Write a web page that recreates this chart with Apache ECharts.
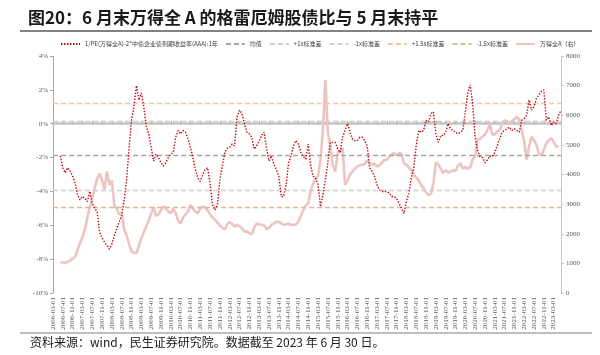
<!DOCTYPE html>
<html><head><meta charset="utf-8">
<script src="https://cdn.jsdelivr.net/npm/echarts@6/dist/echarts.min.js"></script>
<style>html,body{margin:0;padding:0;background:#fff}#c{width:600px;height:355px}</style>
</head><body><div id="c"></div>
<script>
// ---- categories: monthly dates 2006-03 .. 2023-06 ----
var startYear = 2006, startMonth = 3, monthCount = 208;
var dates = [];
for (var i = 0; i < monthCount; i++) {
  var mm = startMonth - 1 + i, y = startYear + Math.floor(mm / 12), mo = mm % 12 + 1;
  dates.push(y + '-' + (mo < 10 ? '0' + mo : mo) + '-01');
}
// ---- 1/PE(万得全A) - 2*中债企业债到期收益率(AAA):1年, % ----
var spread = [
  null, null, null, -1.9, -2.6, -2.9, -2.6, -2.8, -3.1, -3.5,
  -4.2, -4.5, -4.3, -4.4, -4.6, -4.0, -4.7, -5.0, -5.2, -6.4,
  -6.75, -7.0, -7.2, -7.4, -7.1, -6.6, -6.2, -5.8, -5.4, -4.5,
  -3.3, -1.4, 0.2, 1.0, 2.25, 1.4, 1.8, 1.0, -0.1, -0.6,
  -1.4, -2.2, -1.8, -2.0, -2.3, -2.5, -2.3, -2.0, -1.8, -1.7,
  -0.8, -0.4, -0.6, -0.4, -0.5, -0.9, -1.4, -2.0, -2.7, -3.2,
  -3.4, -3.0, -2.7, -2.6, -3.5, -4.8, -5.1, -4.8, -3.3, -2.5,
  -1.7, -1.45, -1.4, -1.2, -1.3, 0.4, 0.8, 0.6, 0.0, -0.5,
  -0.6, -0.8, -1.5, -1.3, -1.0, -0.7, -0.5, -1.4, -2.2, -1.9,
  -2.4, -2.7, -3.1, -4.3, -4.3, -3.6, -2.3, -1.9, -1.3, -1.0,
  -1.2, -1.7, -1.95, -2.1, -1.2, -2.5, -3.1, -3.2, -3.6, -4.9,
  -4.2, -3.3, -2.3, -1.1, -1.1, -1.1, -1.5, -1.7, -0.8, -0.4,
  0.0, -0.5, -0.9, -1.0, -1.0, -0.8, -0.8, -1.0, -1.3, -2.6,
  -2.8, -3.1, -3.6, -3.9, -4.0, -4.0, -4.0, -4.1, -4.3, -4.3,
  -4.4, -4.7, -5.0, -5.3, -4.6, -4.1, -3.2, -2.6, -1.3, -0.4,
  -0.5, -0.4, 0.2, 0.1, 0.6, 0.7, -0.6, -1.1, -0.7, -0.7,
  -0.5, 0.0, -0.3, -0.4, -0.5, -0.6, -0.5, -0.4, 0.7, 1.8,
  2.3, 1.2, -0.8, -1.57, -1.95, -2.0, -2.3, -2.15, -1.9, -1.95,
  -1.7, -1.3, -0.9, -0.5, -0.4, -0.3, -0.2, -0.4, -0.3, -0.4,
  -0.5, 0.2, 0.3, 0.5, 1.4, 0.8, 1.0, 1.5, 1.7, 1.9,
  2.0, 0.2, 0.4, -0.1, 0.1, 0.0, 0.5, 0.8
];
// ---- 万得全A (right axis) ----
var windA = [
  null, null, null, 1050, 1030, 1020, 1060, 1100, 1150, 1230,
  1450, 1680, 1880, 2150, 2550, 2880, 3200, 3550, 3850, 4040,
  3800, 3500, 4100, 3650, 3800, 2950, 2850, 2650, 2700, 2150,
  1950, 1650, 1400, 1350, 1350, 1600, 1850, 2050, 2250, 2450,
  2680, 2900, 2600, 2650, 2800, 2920, 2850, 2750, 2700, 2850,
  2700, 2450, 2350, 2550, 2650, 2750, 2970, 2850, 2750, 2700,
  2850, 2920, 2880, 2800, 2650, 2550, 2470, 2380, 2270, 2200,
  2150, 2330, 2400, 2330, 2240, 2300, 2250, 2185, 2070, 2080,
  2020, 1980, 2200, 2350, 2320, 2300, 2290, 2160, 2200, 2300,
  2350, 2400, 2400, 2350, 2300, 2320, 2340, 2300, 2300, 2320,
  2410, 2600, 2800, 2950, 3030, 3450, 3700, 3850, 3950, 4500,
  5500, 7200, 5400, 5000, 4300, 4100, 4700, 4800, 4900, 3650,
  3800, 4000, 4100, 4200, 4270, 4320, 4330, 4350, 4480, 4380,
  4330, 4370, 4270, 4300, 4400, 4490, 4500, 4600, 4680, 4720,
  4650, 4720, 4700, 4380, 4330, 4250, 4150, 4000, 3900, 3800,
  3650, 3550, 3400, 3300, 3350, 3700, 4400, 4350, 4200, 4050,
  4150, 4060, 4100, 4150, 4120, 4300, 4380, 4200, 4260, 4200,
  4250, 4500, 4620, 5200, 5200, 5280, 5350, 5500, 5700, 5350,
  5350, 5450, 5500, 5700, 5820, 5800, 5700, 5800, 5870, 5950,
  5850, 5500, 5100, 4500, 4950, 5280, 5150, 5000, 4700, 4650,
  4830, 5050, 5150, 5220, 5100, 4950, 4950
];
// ---- reference levels (%) ----
var refNames  = ['均值', '+1x标准差', '-1x标准差', '+1.5x标准差', '-1.5x标准差'];
var refLevels = [-1.88, 0.16, -3.92, 1.18, -4.94];
var leftTicks  = [-10, -8, -6, -4, -2, 0, 2, 4];
var rightTicks = [0, 1000, 2000, 3000, 4000, 5000, 6000, 7000, 8000];

var refColors = ['#a6a6a6', '#d0d0d0', '#d0d0d0', '#f2c6a8', '#e3b89c'];
var serifFont = 'Liberation Serif';
var cjk = 'Noto Sans CJK SC';

var series = [{
  name: '1/PE(万得全A)-2*中债企业债到期收益率(AAA):1年',
  type: 'line', data: spread, xAxisIndex: 0, yAxisIndex: 0,
  showSymbol: false, symbol: 'none', z: 5,
  lineStyle: { color: '#c8000a', width: 1.4, type: [1.4, 1.6] },
  itemStyle: { color: '#c8000a' }
}];
refNames.forEach(function (n, k) {
  series.push({
    name: n, type: 'line', data: [], xAxisIndex: 0, yAxisIndex: 0, symbol: 'none', z: 3,
    lineStyle: { color: refColors[k], width: 1.3, type: [5, 3] },
    itemStyle: { color: refColors[k] },
    markLine: {
      silent: true, symbol: ['none', 'none'], label: { show: false },
      lineStyle: { color: refColors[k], width: 1.3, type: [5, 3] },
      data: [{ yAxis: refLevels[k] }]
    }
  });
});
series.push({
  name: '万得全A（右）', type: 'line', data: windA, xAxisIndex: 0, yAxisIndex: 1,
  showSymbol: false, symbol: 'none', z: 2,
  lineStyle: { color: '#ecc4c2', width: 2.6 },
  itemStyle: { color: '#ecc4c2' }
});

var chart = echarts.init(document.getElementById('c'));
chart.setOption({
  animation: false,
  backgroundColor: '#fff',
  graphic: [
    { type: 'text', left: 28, top: 9, style: { text: '图20：6 月末万得全 A 的格雷厄姆股债比与 5 月末持平', font: 'bold 17px "Noto Sans CJK SC"', fill: '#1a1a1a' } },
    { type: 'line', shape: { x1: 20, y1: 31, x2: 592, y2: 31 }, style: { stroke: '#595959', lineWidth: 1.5 } },
    { type: 'line', shape: { x1: 20, y1: 333, x2: 592, y2: 333 }, style: { stroke: '#7f7f7f', lineWidth: 1 } },
    { type: 'text', left: 30, top: 336, style: { text: '资料来源：wind，民生证券研究院。数据截至 2023 年 6 月 30 日。', font: '12px "Noto Sans CJK SC"', fill: '#1a1a1a' } }
  ],
  legend: {
    top: 41, left: 60, width: 540, padding: 0, itemWidth: 19, itemHeight: 6, itemGap: 7,
    itemStyle: { opacity: 0 },
    textStyle: { fontSize: 6, fontFamily: cjk, color: '#404040' },
    data: series.map(function (s) { return s.name; })
  },
  grid: { left: 53, right: 39, top: 56, bottom: 62 },
  xAxis: [{
    type: 'category', data: dates, boundaryGap: false,
    axisLine: { show: false, onZero: false },
    axisTick: { show: false },
    axisLabel: { interval: 3, rotate: 90, fontSize: 7, fontFamily: serifFont, color: '#595959', margin: 4 },
    splitLine: { show: false }
  }, {
    type: 'category', data: dates, boundaryGap: false, position: 'bottom',
    axisLine: { show: true, onZero: true, onZeroAxisIndex: 0, lineStyle: { color: '#c4c4c4', width: 2.5 } },
    axisTick: { show: true, inside: true, interval: 3, length: 3, lineStyle: { color: '#a0a0a0', width: 0.8 } },
    axisLabel: { show: false }, splitLine: { show: false }
  }],
  yAxis: [{
    type: 'value', min: leftTicks[0], max: leftTicks[leftTicks.length - 1], interval: 2,
    axisLine: { show: true, lineStyle: { color: '#a6a6a6' } },
    axisTick: { show: true, length: 3, lineStyle: { color: '#a6a6a6' } },
    axisLabel: { formatter: '{value}%', fontSize: 7, fontFamily: serifFont, color: '#595959', margin: 5 },
    splitLine: { show: false }
  }, {
    type: 'value', min: rightTicks[0], max: rightTicks[rightTicks.length - 1], interval: 1000,
    axisLine: { show: true, lineStyle: { color: '#c8c8c8' } },
    axisTick: { show: true, length: 3, lineStyle: { color: '#c8c8c8' } },
    axisLabel: { formatter: function (v) { return String(v); }, fontSize: 7, fontFamily: serifFont, color: '#595959', margin: 5 },
    splitLine: { show: false }
  }],
  series: series
});
</script></body></html>
